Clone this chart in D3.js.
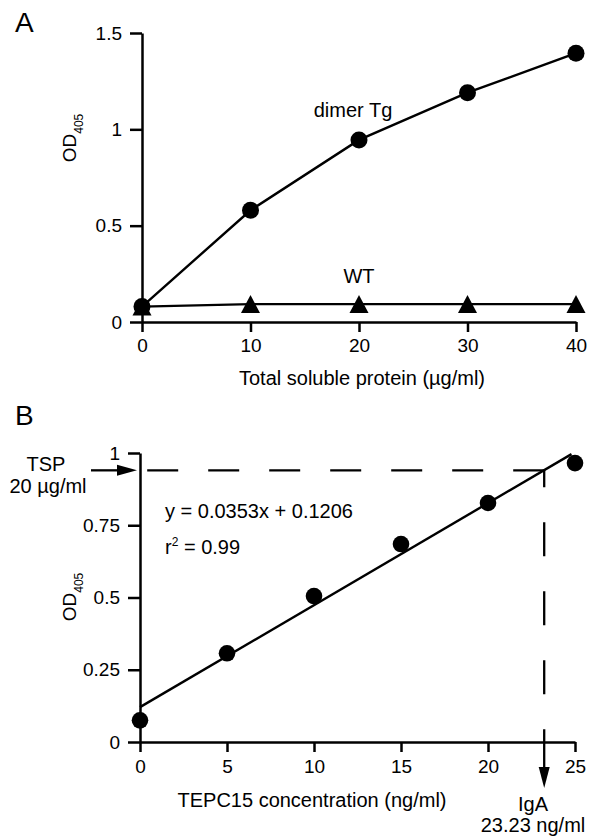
<!DOCTYPE html>
<html>
<head>
<meta charset="utf-8">
<title>OD405 ELISA panels</title>
<script src="https://d3js.org/d3.v7.min.js"></script>
<style>
  body { margin: 0; background: #fff; }
  svg text { font-family: "Liberation Sans", Arial, sans-serif; fill: #000; }
</style>
</head>
<body>
<div id="chart"></div>
<script>
// panel A : OD405 vs total soluble protein
const proteinConc = [0, 10, 20, 30, 40];
const dimerTg = [0.08, 0.58, 0.945, 1.19, 1.395];
const wildType = [0.08, 0.093, 0.093, 0.093, 0.093];
const ticksAx = [0, 10, 20, 30, 40];
const ticksAy = [0, 0.5, 1, 1.5];
const labelsAy = ["0", "0.5", "1", "1.5"];

// panel B : TEPC15 standard curve
const tepcConc = [0, 5, 10, 15, 20, 25];
const tepcOD = [0.075, 0.307, 0.505, 0.685, 0.827, 0.965];
const ticksBx = [0, 5, 10, 15, 20, 25];
const ticksBy = [0, 0.25, 0.5, 0.75, 1];
const labelsBy = ["0", "0.25", "0.5", "0.75", "1"];
const fitSlope = 0.0353, fitIntercept = 0.1206;
const fitRange = [0, 24.8];
const tspOD = 0.94;      // OD of TSP 20 ug/ml
const igaConc = 23.23;   // IgA

const FONT = "Liberation Sans, Arial, sans-serif";

const svg = d3.select("#chart")
  .append("svg")
  .attr("width", 590)
  .attr("height", 839);

// scales
const xA = d3.scaleLinear().domain([0, 40]).range([142, 576]);
const yA = d3.scaleLinear().domain([0, 1.5]).range([322, 33]);
const xB = d3.scaleLinear().domain([0, 25]).range([140, 575]);
const yB = d3.scaleLinear().domain([0, 1]).range([742, 453]);

function styleAxis(g) {
  g.attr("font-size", 19).attr("font-family", FONT);
  g.select(".domain").attr("stroke", "#000").attr("stroke-width", 2.5);
  g.selectAll(".tick line").attr("stroke", "#000").attr("stroke-width", 2.5);
  g.selectAll(".tick text").attr("fill", "#000");
}

// ---------- panel A ----------
svg.append("g")
  .attr("transform", "translate(0," + yA(0) + ")")
  .call(d3.axisBottom(xA).tickValues(ticksAx).tickSizeInner(10).tickSizeOuter(0).tickPadding(7))
  .call(styleAxis);

svg.append("g")
  .attr("transform", "translate(" + xA(0) + ",0)")
  .call(d3.axisLeft(yA).tickValues(ticksAy).tickFormat((d, i) => labelsAy[i])
    .tickSizeInner(12).tickSizeOuter(0).tickPadding(8))
  .call(styleAxis);

const lineA = d3.line()
  .x(d => xA(d[0]))
  .y(d => yA(d[1]));

const wtPts = proteinConc.map((c, i) => [c, wildType[i]]);
const tgPts = proteinConc.map((c, i) => [c, dimerTg[i]]);

svg.append("path")
  .attr("d", lineA(wtPts))
  .attr("fill", "none")
  .attr("stroke", "#000")
  .attr("stroke-width", 2.4);

// triangles, box centred on the value
svg.selectAll(".tri")
  .data(wtPts)
  .enter()
  .append("path")
  .attr("class", "tri")
  .attr("d", d => {
    const cx = xA(d[0]), cy = yA(d[1]);
    return "M" + cx + "," + (cy - 9) + "L" + (cx + 9.5) + "," + (cy + 9) + "L" + (cx - 9.5) + "," + (cy + 9) + "Z";
  })
  .attr("fill", "#000");

svg.append("path")
  .attr("d", lineA(tgPts))
  .attr("fill", "none")
  .attr("stroke", "#000")
  .attr("stroke-width", 2.4);

svg.selectAll(".dotA")
  .data(tgPts)
  .enter()
  .append("circle")
  .attr("class", "dotA")
  .attr("cx", d => xA(d[0]))
  .attr("cy", d => yA(d[1]))
  .attr("r", 8.5)
  .attr("fill", "#000");

svg.append("text").attr("x", 353).attr("y", 117)
  .attr("text-anchor", "middle").attr("font-size", 20).text("dimer Tg");
svg.append("text").attr("x", xA(20)).attr("y", 283)
  .attr("text-anchor", "middle").attr("font-size", 20).text("WT");

svg.append("text").attr("x", 362).attr("y", 385)
  .attr("text-anchor", "middle").attr("font-size", 20)
  .text("Total soluble protein (\u00b5g/ml)");

svg.append("text").attr("x", 15).attr("y", 32)
  .attr("font-size", 28).text("A");

// y label with subscript
function odLabel(cy) {
  const t = svg.append("text")
    .attr("transform", "rotate(-90)")
    .attr("x", -cy)
    .attr("y", 75.5)
    .attr("text-anchor", "middle")
    .attr("font-size", 19);
  t.append("tspan").text("OD");
  t.append("tspan").attr("font-size", 12).attr("dy", 7.5).text("405");
}
odLabel(138);

// ---------- panel B ----------
svg.append("g")
  .attr("transform", "translate(0," + yB(0) + ")")
  .call(d3.axisBottom(xB).tickValues(ticksBx).tickSizeInner(10).tickSizeOuter(0).tickPadding(8))
  .call(styleAxis);

svg.append("g")
  .attr("transform", "translate(" + xB(0) + ",0)")
  .call(d3.axisLeft(yB).tickValues(ticksBy).tickFormat((d, i) => labelsBy[i])
    .tickSizeInner(12).tickSizeOuter(0).tickPadding(8))
  .call(styleAxis);

// dashed read-off lines
svg.append("path")
  .attr("d", "M" + xB(igaConc) + "," + yB(tspOD) + "H" + xB(0))
  .attr("fill", "none")
  .attr("stroke", "#000")
  .attr("stroke-width", 2.3)
  .attr("stroke-dasharray", "31,30");

const arrowTipY = yB(0) + 46;
svg.append("path")
  .attr("d", "M" + xB(igaConc) + "," + yB(tspOD) + "V" + (arrowTipY - 20))
  .attr("fill", "none")
  .attr("stroke", "#000")
  .attr("stroke-width", 2.3)
  .attr("stroke-dasharray", "17,35,34,35,34,35,34,35,100");

svg.append("path")
  .attr("d", "M" + xB(igaConc) + "," + arrowTipY + "l-5.5,-21h11z")
  .attr("fill", "#000");

// TSP arrow
const tspY = yB(tspOD);
svg.append("line")
  .attr("x1", xB(0) - 49).attr("x2", xB(0) - 20)
  .attr("y1", tspY).attr("y2", tspY)
  .attr("stroke", "#000").attr("stroke-width", 2.3);
svg.append("path")
  .attr("d", "M" + (xB(0) - 3) + "," + tspY + "l-20,-5.5v11z")
  .attr("fill", "#000");

// regression line
const fitLine = d3.line()
  .x(d => xB(d))
  .y(d => yB(fitSlope * d + fitIntercept));
svg.append("path")
  .attr("d", fitLine(fitRange))
  .attr("fill", "none")
  .attr("stroke", "#000")
  .attr("stroke-width", 2.4);

svg.selectAll(".dotB")
  .data(tepcConc.map((c, i) => [c, tepcOD[i]]))
  .enter()
  .append("circle")
  .attr("class", "dotB")
  .attr("cx", d => xB(d[0]))
  .attr("cy", d => yB(d[1]))
  .attr("r", 8.3)
  .attr("fill", "#000");

svg.append("text").attr("x", 46).attr("y", 471)
  .attr("text-anchor", "middle").attr("font-size", 20).text("TSP");
svg.append("text").attr("x", 48).attr("y", 493)
  .attr("text-anchor", "middle").attr("font-size", 20).text("20 \u00b5g/ml");

svg.append("text").attr("x", 165).attr("y", 518)
  .attr("font-size", 20).text("y = 0.0353x + 0.1206");
const r2 = svg.append("text").attr("x", 165).attr("y", 554).attr("font-size", 20);
r2.append("tspan").text("r");
r2.append("tspan").attr("font-size", 12).attr("dy", -8).text("2");
r2.append("tspan").attr("dy", 8).text(" = 0.99");

svg.append("text").attr("x", 312).attr("y", 807)
  .attr("text-anchor", "middle").attr("font-size", 20)
  .text("TEPC15 concentration (ng/ml)");

svg.append("text").attr("x", 533).attr("y", 811)
  .attr("text-anchor", "middle").attr("font-size", 20).text("IgA");
svg.append("text").attr("x", 533).attr("y", 832)
  .attr("text-anchor", "middle").attr("font-size", 20).text("23.23 ng/ml");

svg.append("text").attr("x", 15).attr("y", 425)
  .attr("font-size", 28).text("B");

odLabel(597);
</script>
</body>
</html>
